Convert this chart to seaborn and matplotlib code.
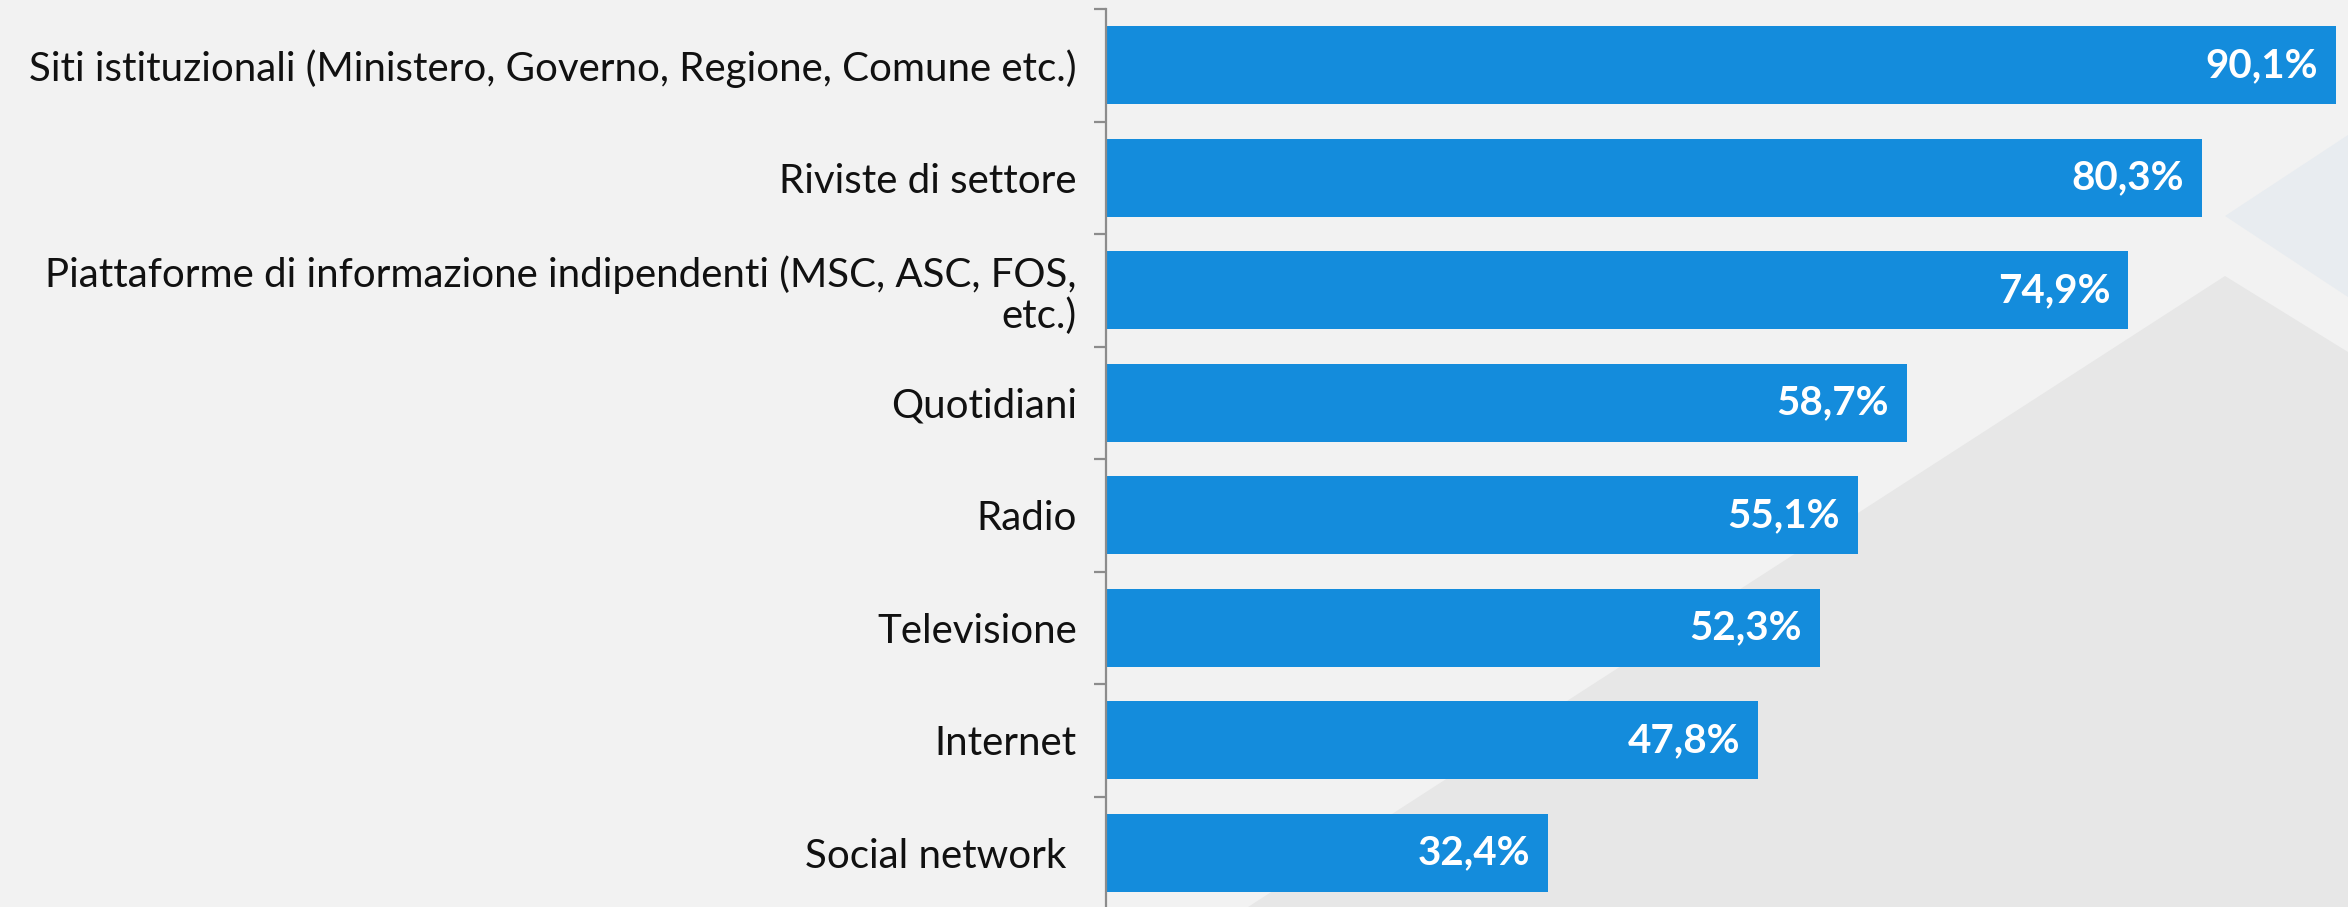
import matplotlib
matplotlib.use("Agg")
import matplotlib.pyplot as plt
from matplotlib.patches import Polygon
from matplotlib.ticker import FixedLocator
import seaborn as sns
import pandas as pd

# Information sources and share of respondents (%)
categories = [
    "Siti istituzionali (Ministero, Governo, Regione, Comune etc.)",
    "Riviste di settore",
    "Piattaforme di informazione indipendenti (MSC, ASC, FOS,\netc.)",
    "Quotidiani",
    "Radio",
    "Televisione",
    "Internet",
    "Social network ",
]
values = [90.1, 80.3, 74.9, 58.7, 55.1, 52.3, 47.8, 32.4]

BAR_COLOR = "#148CDC"
BG = "#F2F2F2"
AXIS_GRAY = "#8C8C8C"

sns.set_theme(style="white")
plt.rcParams["font.family"] = ["Lato", "DejaVu Sans"]

W, H = 2348, 907
fig = plt.figure(figsize=(W / 100, H / 100), dpi=100, facecolor=BG)

# decorative background shapes (figure pixel coordinates)
def fig_poly(points, color):
    pts = [(x / W, 1 - y / H) for x, y in points]
    fig.patches.append(Polygon(pts, closed=True, transform=fig.transFigure,
                               facecolor=color, edgecolor="none", zorder=-5))

fig_poly([(2225, 216), (2348, 135), (2348, 297)], "#E8ECF0")
fig_poly([(2225, 276), (2348, 352), (2348, 907), (1248, 907)], "#E7E7E7")

ax = fig.add_axes([1106 / W, -2 / H, 1 - 1106 / W, 900 / H])
ax.set_facecolor("none")
ax.set_zorder(1)

df = pd.DataFrame({"fonte": categories, "valore": values})
sns.barplot(data=df, x="valore", y="fonte", orient="h", color=BAR_COLOR,
            saturation=1, width=0.69, linewidth=0, ax=ax)

ax.set_xlim(0, 91.0)
ax.set_ylim(len(categories) - 0.5, -0.5)
ax.set_xlabel("")
ax.set_ylabel("")
ax.xaxis.set_visible(False)

for side in ("top", "right", "bottom"):
    ax.spines[side].set_visible(False)
ax.spines["left"].set_color(AXIS_GRAY)
ax.spines["left"].set_linewidth(1.6)

# category labels without tick marks; ticks drawn at band boundaries
ax.tick_params(axis="y", which="major", length=0, pad=21, labelsize=29,
               labelcolor="#111111")
ax.yaxis.set_minor_locator(FixedLocator([i - 0.5 for i in range(len(categories) + 1)]))
ax.tick_params(axis="y", which="minor", length=9, width=1.6, color=AXIS_GRAY, left=True)
for lbl in ax.get_yticklabels():
    lbl.set_linespacing(1.1)

# value labels inside the bar ends
for i, v in enumerate(values):
    ax.annotate(f"{v:.1f}".replace(".", ",") + "%", xy=(v, i), xytext=(-13, 0),
                textcoords="offset points", ha="right", va="center",
                color="white", fontsize=29, fontweight="bold")

fig.savefig("out.png", dpi=100, facecolor=BG)
